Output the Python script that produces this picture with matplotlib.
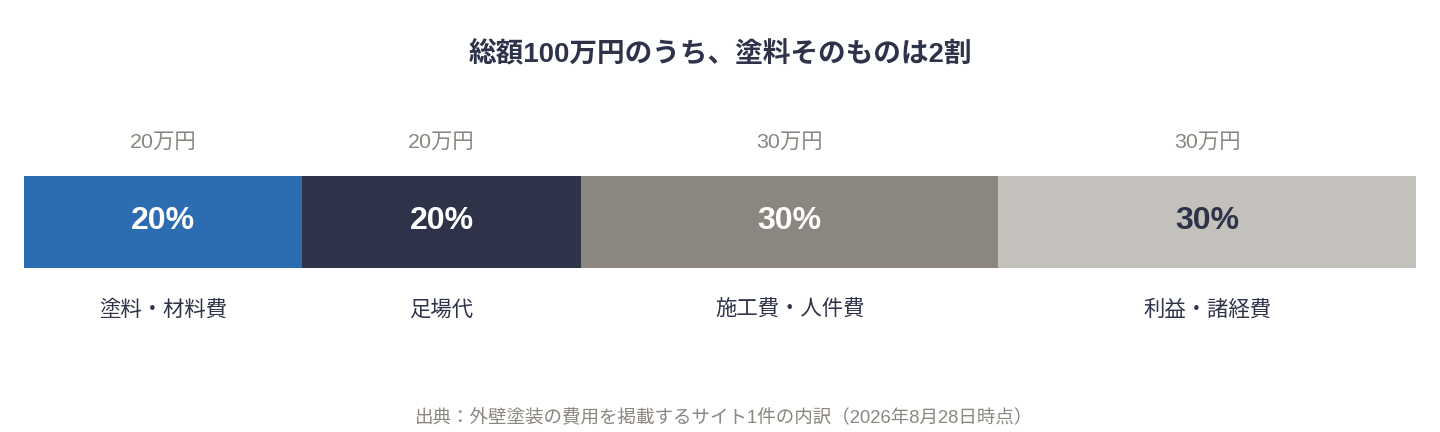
import matplotlib
matplotlib.use("Agg")
import matplotlib.pyplot as plt

FAM = ['Liberation Sans', 'Noto Sans CJK JP', 'DejaVu Sans']
plt.rcParams['font.family'] = FAM

categories = ["塗料・材料費", "足場代", "施工費・人件費", "利益・諸経費"]
shares = [20, 20, 30, 30]
amounts = ["20万円", "20万円", "30万円", "30万円"]
colors = ["#2c6cb0", "#2f3349", "#8b8680", "#c4c1bc"]
pct_colors = ["white", "white", "white", "#2f3349"]
title = "総額100万円のうち、塗料そのものは2割"
source = "出典：外壁塗装の費用を掲載するサイト1件の内訳（2026年8月28日時点）"

W, H = 1440, 432
fig = plt.figure(figsize=(W / 100, H / 100), dpi=100)
fig.patch.set_facecolor("white")
ax = fig.add_axes([24 / W, 0, 1392 / W, 1])
ax.set_xlim(0, sum(shares))
ax.set_ylim(H, 0)
ax.axis("off")

left = 0
for cat, s, amt, c, pc in zip(categories, shares, amounts, colors, pct_colors):
    ax.barh(222, s, left=left, height=92, color=c, edgecolor="none")
    cx = left + s / 2
    ax.text(cx, 142, amt, ha="center", va="center", fontsize=15.4, color="#8b8680")
    ax.text(cx, 221, f"{s}%", ha="center", va="center", fontsize=23,
            fontweight="bold", color=pc)
    ax.text(cx, 310, cat, ha="center", va="center", fontsize=15.4, color="#2f3349")
    left += s

fig.text(0.5, 1 - 54 / H, title, ha="center", va="center", fontsize=19.9,
         fontweight="bold", color="#2f3349")
fig.text(0.503, 1 - 417 / H, source, ha="center", va="center", fontsize=13.35,
         color="#8b8680")

fig.savefig("out.png", dpi=100, facecolor="white")
